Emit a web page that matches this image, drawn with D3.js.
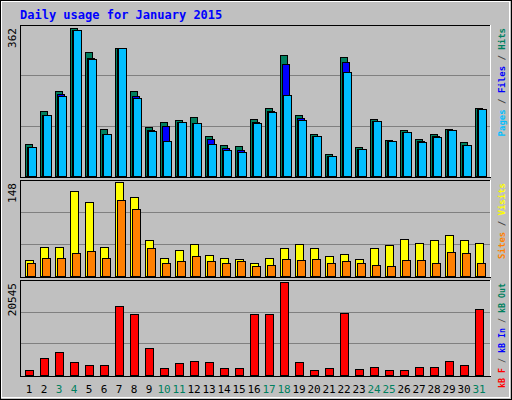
<!DOCTYPE html>
<html>
<head>
<meta charset="UTF-8">
<style>
  body { margin: 0; background: #fff; }
  text { font-family: "DejaVu Sans Mono", monospace; }
</style>
</head>
<body>
<svg width="512" height="400"></svg>
<script src="https://d3js.org/d3.v7.min.js"></script>
<script>
// values
const days = d3.range(1, 32);
const weekend = [3, 4, 10, 11, 17, 18, 24, 25, 31];
const hits  = [78,160,209,362,302,115,314,209,120,132,137,145,98,76,73,140,167,295,149,103,53,290,71,140,88,113,90,103,115,83,167];
const files = [71,149,201,357,289,103,313,195,113,122,132,130,90,68,63,132,159,273,142,98,49,278,66,135,85,108,85,98,113,76,164];
const pages = [71,149,196,356,287,103,312,191,110,85,132,130,78,63,58,130,157,199,137,98,49,255,66,135,85,108,83,95,113,76,164];
const visits = [25,45,45,134,116,45,148,125,57,28,41,50,33,28,26,20,28,44,50,44,31,34,26,44,49,58,52,57,65,57,52];
const sites  = [20,28,29,36,39,28,119,106,44,20,23,31,23,20,23,15,18,26,25,26,21,23,21,17,15,25,25,21,37,36,21];
const kbytes = [1200,3674,5024,2774,2100,2100,15145,13346,5923,1650,2549,2999,2774,1650,1650,13346,13346,20545,2774,1200,1650,13571,1425,1874,1200,1200,1874,1874,2999,2100,14471];

const svg = d3.select("svg");
svg.append("rect").attr("x", 0.5).attr("y", 0.5).attr("width", 511).attr("height", 399)
  .attr("fill", "#c0c0c0").attr("stroke", "#000");
svg.append("rect").attr("x", 1.5).attr("y", 1.5).attr("width", 508).attr("height", 396)
  .attr("fill", "none").attr("stroke", "#fff");

svg.append("text").attr("x", 20).attr("y", 19).attr("fill", "#0000ff")
  .attr("font-size", 12).attr("font-weight", "bold").text("Daily usage for January 2015");

const x = d3.scaleBand().domain(days).range([20, 485]).paddingInner(0);

function panel(top, bottom, max, label, series, legend, lsize) {
  const y = d3.scaleLinear().domain([0, max * 1.02]).range([bottom, top]);
  svg.append("rect").attr("x", 20.5).attr("y", top + 0.5).attr("width", 470).attr("height", bottom - top + 1)
    .attr("fill", "#c0c0c0").attr("stroke", "#000");
  svg.append("line").attr("x1", 490.5).attr("x2", 490.5).attr("y1", top).attr("y2", bottom + 1)
    .attr("stroke", "#fff");
  [1, 2].forEach(k => {
    const gy = Math.round(bottom - (bottom - top) * k / 3) + 0.5;
    svg.append("line").attr("x1", 21).attr("x2", 490).attr("y1", gy).attr("y2", gy)
      .attr("stroke", "#808080");
  });
  series.forEach(s => {
    svg.append("g").selectAll("rect").data(s.data).join("rect")
      .attr("x", (d, i) => x(days[i]) + 5.5 + s.off)
      .attr("y", d => Math.round(y(d)) + 0.5)
      .attr("width", s.w)
      .attr("height", d => bottom - Math.round(y(d)))
      .attr("fill", s.color).attr("stroke", "#000");
  });
  svg.append("text").attr("transform", `translate(16,${top + 3}) rotate(-90)`)
    .attr("text-anchor", "end").attr("font-size", 11).text(label);
  const t = svg.append("text").attr("transform", `translate(505,${top + 3}) rotate(-90)`)
    .attr("text-anchor", "end").attr("font-size", lsize).attr("font-weight", "bold");
  legend.forEach(l => t.append("tspan").attr("fill", l[1]).text(l[0]));
}

panel(25, 176, 362, "362", [
  { data: hits, color: "#00805f", off: 0, w: 7 },
  { data: files, color: "#0000ff", off: 2, w: 7 },
  { data: pages, color: "#00bfff", off: 3, w: 8 }
], [["Pages", "#00bfff"], [" / ", "#404040"], ["Files", "#0000ff"], [" / ", "#404040"], ["Hits", "#00805f"]], 9);

panel(180, 276, 148, "148", [
  { data: visits, color: "#ffff00", off: 0, w: 8 },
  { data: sites, color: "#ff8000", off: 2, w: 8 }
], [["Sites", "#ff8000"], [" / ", "#404040"], ["Visits", "#ffff00"]], 9);

panel(280, 375, 20545, "20545", [
  { data: kbytes, color: "#ff0000", off: 0, w: 8 }
], [["kB F", "#ff0000"], [" / ", "#404040"], ["kB In", "#0000ff"], [" / ", "#404040"], ["kB Out", "#00805f"]], 8.3);

svg.append("g").selectAll("text").data(days).join("text")
  .attr("x", d => x(d) + 9).attr("y", 393).attr("text-anchor", "middle")
  .attr("font-size", 11)
  .attr("fill", d => weekend.includes(d) ? "#00805f" : "#000")
  .text(d => d);
</script>
</body>
</html>
